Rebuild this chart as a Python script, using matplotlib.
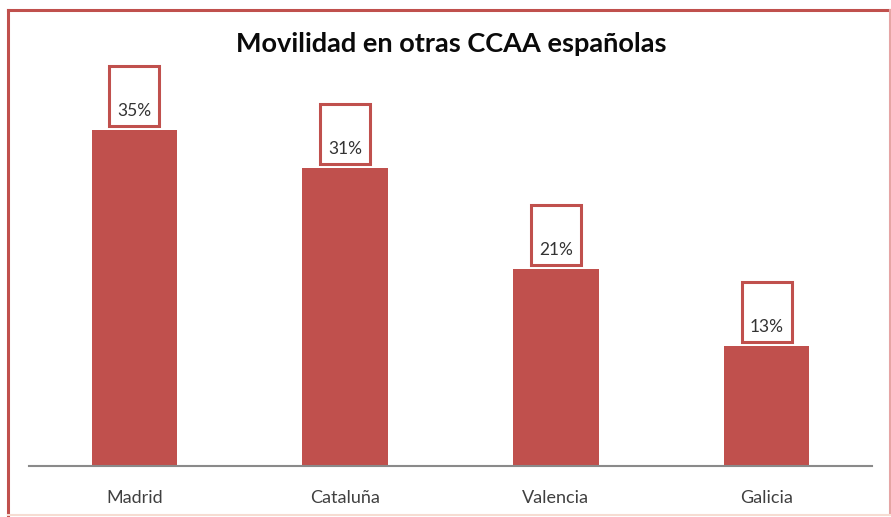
import matplotlib
matplotlib.use("Agg")
import matplotlib.pyplot as plt
from matplotlib.patches import Rectangle
from matplotlib.lines import Line2D
from matplotlib.transforms import IdentityTransform

categories = ["Madrid", "Cataluña", "Valencia", "Galicia"]
values = [35.2, 31.2, 20.6, 12.6]
labels = ["35%", "31%", "21%", "13%"]
title = "Movilidad en otras CCAA españolas"

plt.rcParams['font.family'] = ['Lato', 'DejaVu Sans']
W, H = 891, 517
fig = plt.figure(figsize=(W / 100, H / 100), dpi=100)
fig.patch.set_facecolor("white")

ax = fig.add_axes([29 / W, 51 / H, (872 - 29) / W, (466 - 84) / H])
bar_color = "#C0504D"
ax.bar(range(len(categories)), values, width=0.405, color=bar_color)
ax.set_xlim(-0.5, len(categories) - 0.5)
ax.set_ylim(0, 40)
ax.set_xticks(range(len(categories)))
ax.set_xticklabels(categories, fontsize=13, color="#404040")
ax.tick_params(axis="x", length=0, pad=17)
ax.set_yticks([])
for s in ["top", "right", "left"]:
    ax.spines[s].set_visible(False)
ax.spines["bottom"].set_color("#8a8a8a")
ax.spines["bottom"].set_linewidth(1.5)

fig.canvas.draw()
for i, (v, lab) in enumerate(zip(values, labels)):
    px, py = ax.transData.transform((i, v))
    rect = Rectangle((px - 25, py + 4), 50, 60, transform=IdentityTransform(),
                     facecolor="white", edgecolor="#C0504D", linewidth=2.2)
    fig.patches.append(rect)
    rect.set_figure(fig)
    fig.text(px / W, (py + 19) / H, lab, ha="center", va="center",
             fontsize=12.5, color="#333333")

fig.text(451 / W, (517 - 44) / H, title, ha="center", va="center",
         fontsize=19.5, fontweight="bold", color="#0a0a0a")

# figure frame
xl, xr = 8 / W, 889.5 / W
yt, yb = (517 - 10) / H, (517 - 515) / H
frame = [
    ((xl, xl), (yb, yt), "#C0504D", 2.2),
    ((xl, xr), (yt, yt), "#C0504D", 2.2),
    ((xr, xr), (yb, yt), "#E6A5A5", 1.5),
    ((xl, xr), (yb, yb), "#F6DCD2", 1.5),
]
for xs, ys, c, lw in frame:
    fig.add_artist(Line2D(xs, ys, transform=fig.transFigure, color=c, linewidth=lw))

fig.savefig("out.png", dpi=100)
